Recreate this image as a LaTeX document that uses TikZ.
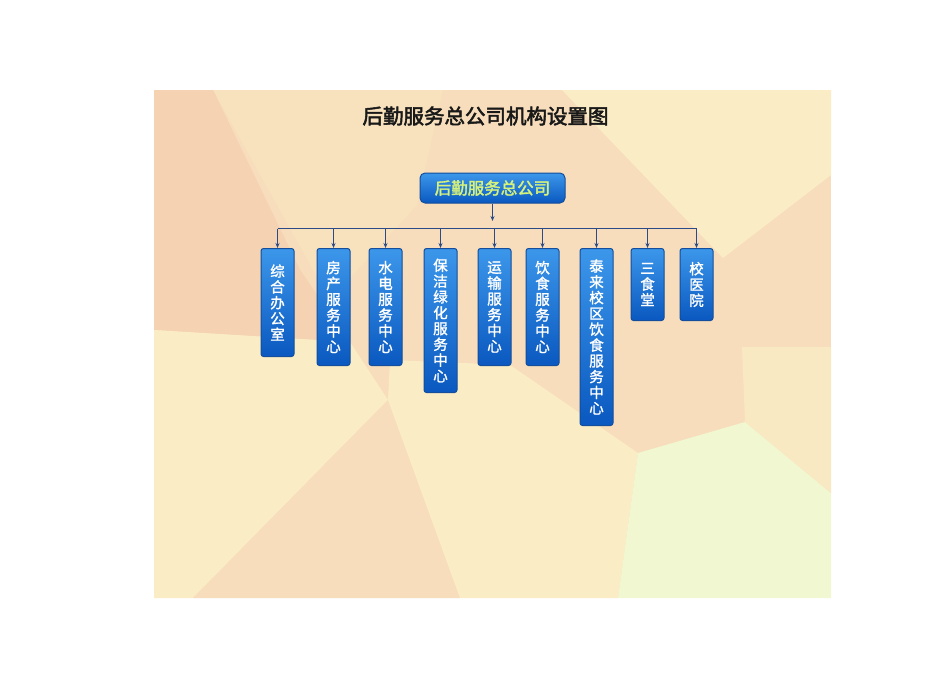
\documentclass[tikz,border=0pt]{standalone}
\usepackage{fontspec}
\newfontfamily\cjk{Noto Sans CJK SC}
\newfontfamily\cjkfb[FakeBold=1.6]{Noto Sans CJK SC}
\newfontfamily\cjkroot[FakeBold=2.2]{Noto Sans CJK SC}
\newfontfamily\cjktitle[FakeBold=2.6]{Noto Sans CJK SC}
\usetikzlibrary{arrows.meta}
\definecolor{pdark}{HTML}{F4D2B2}
\definecolor{pbase}{HTML}{F7DDBB}
\definecolor{pyel}{HTML}{FAEDC6}
\definecolor{pcream}{HTML}{F9E9C3}
\definecolor{pgreen}{HTML}{F1F7D0}
\definecolor{pmid}{HTML}{F8E2BE}
\definecolor{btop}{HTML}{3C97EA}
\definecolor{bbot}{HTML}{0A58C0}
\definecolor{bedge}{HTML}{144E9C}
\definecolor{conn}{HTML}{2B4A86}
\definecolor{roottext}{HTML}{D6F27A}
\tikzset{
  orgbox/.style={draw=bedge, line width=1pt, rounded corners=2.5pt,
    top color=btop, bottom color=bbot, inner sep=0pt},
  unitbox/.style={orgbox, minimum width=33pt, anchor=north, text=white,
    align=center, font=\cjkfb\fontsize{14.5}{15.8}\selectfont},
  rootbox/.style={orgbox, rounded corners=5pt, minimum width=145pt, minimum height=30pt,
    text=roottext, font=\cjkroot\fontsize{16.5}{18}\selectfont},
  link/.style={draw=conn, line width=0.9pt},
  arrowlink/.style={link, -{Stealth[length=5pt,width=4pt]}}
}
\begin{document}
\begin{tikzpicture}[x=1pt,y=-1pt]
\useasboundingbox (0,0) rectangle (950,672);
\fill[white] (0,0) rectangle (950,672);
% background panel
\fill[pbase] (154,90) rectangle (831,598);
\fill[pmid] (213,90) -- (443,90) -- (417,205) -- (330,300) -- cycle;
\fill[pdark] (154,90) -- (213,90) -- (300,270) -- (350,342) -- (154,330) -- cycle;
\fill[pyel] (154,330) -- (350,342) -- (388,400) -- (193,598) -- (154,598) -- cycle;
\fill[pbase] (388,400) -- (460,598) -- (193,598) -- cycle;
\fill[pyel] (388,400) -- (390,360) -- (510,365) -- (638,453) -- (618,598) -- (460,598) -- cycle;
\fill[pgreen] (638,453) -- (745,422) -- (831,493) -- (831,598) -- (618,598) -- cycle;
\fill[pcream] (742,347) -- (831,347) -- (831,493) -- (745,422) -- cycle;
\fill[pyel] (562,90) -- (831,90) -- (831,175) -- (723,258) -- cycle;
% title
\node[font=\cjktitle\fontsize{20.5}{22}\selectfont, text=black!90] (title) at (485.5,116) {后勤服务总公司机构设置图};
% root
\node[rootbox] (root) at (492.5,188) {后勤服务总公司};
\coordinate (rootend) at (492.5,221);
\coordinate (bar) at (492.5,228.5);
% units
\node[unitbox, minimum height=108pt] (c1) at (277.5,248) {综\\合\\办\\公\\室};
\node[unitbox, minimum height=117pt] (c2) at (333.5,248) {房\\产\\服\\务\\中\\心};
\node[unitbox, minimum height=117pt] (c3) at (385.5,248) {水\\电\\服\\务\\中\\心};
\node[unitbox, minimum height=144pt] (c4) at (440.5,248) {保\\洁\\绿\\化\\服\\务\\中\\心};
\node[unitbox, minimum height=117pt] (c5) at (494.5,248) {运\\输\\服\\务\\中\\心};
\node[unitbox, minimum height=117pt] (c6) at (542.5,248) {饮\\食\\服\\务\\中\\心};
\node[unitbox, minimum height=177pt] (c7) at (596.5,248) {泰\\来\\校\\区\\饮\\食\\服\\务\\中\\心};
\node[unitbox, minimum height=72pt] (c8) at (647.5,248) {三\\食\\堂};
\node[unitbox, minimum height=72pt] (c9) at (696.5,248) {校\\医\\院};
% connectors
\draw[arrowlink] (root.south) -- (rootend);
\draw[link] (bar -| c1) -- (bar -| c9);
\foreach \c in {c1,c2,c3,c4,c5,c6,c7,c8,c9}
  \draw[arrowlink] (bar -| \c) -- (\c.north);
\end{tikzpicture}
\end{document}
